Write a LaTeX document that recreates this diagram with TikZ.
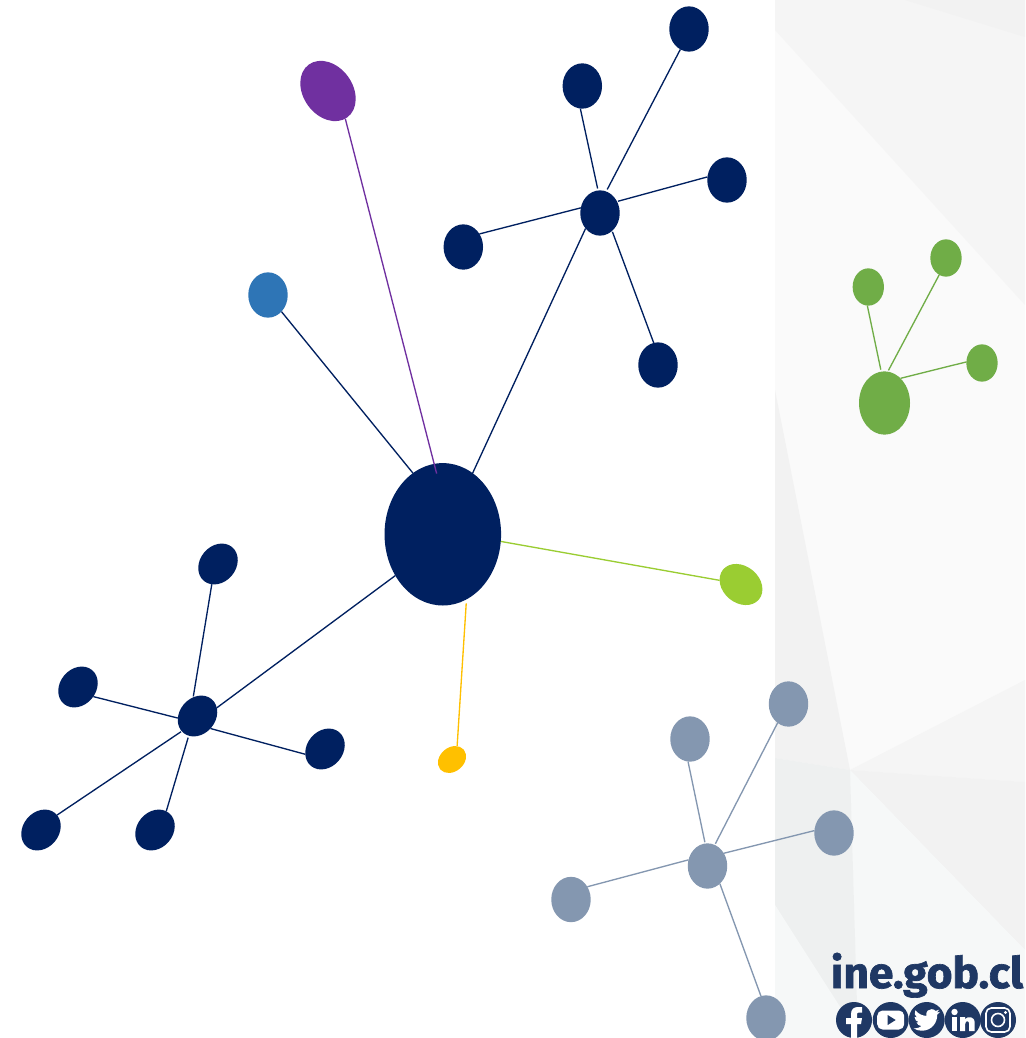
\documentclass[tikz,border=0pt]{standalone}
\usepackage{fontspec}
\setmainfont{Fira Sans}[BoldFeatures={FakeBold=1.5}]
\usetikzlibrary{shapes.geometric}
\definecolor{navy}{HTML}{002060}
\definecolor{skyb}{HTML}{2E75B6}
\definecolor{purp}{HTML}{7030A0}
\definecolor{lime}{HTML}{9ACD32}
\definecolor{gold}{HTML}{FFC000}
\definecolor{leaf}{HTML}{70AD47}
\definecolor{slate}{HTML}{8497B0}
\definecolor{logo}{HTML}{1F3864}
\definecolor{pale}{HTML}{F6F8F8}
\definecolor{dim}{HTML}{EEF0F0}
\tikzset{
  dot/.style={ellipse,inner sep=0pt,outer sep=0pt,draw=none},
  sat/.style={dot,minimum width=29.6pt,minimum height=34pt},
  tilted/.style={dot,minimum width=33pt,minimum height=27pt,rotate=50},
  small/.style={dot,fill=leaf,minimum width=23.5pt,minimum height=28pt},
  link/.style={line width=1pt},
  panel/.style={draw=none},
  icon/.style={circle,fill=logo,inner sep=0pt,outer sep=0pt,minimum size=27pt}
}
\begin{document}
\begin{tikzpicture}[x=0.75pt,y=-0.75pt]
\clip (0,0) rectangle (1025,1038);
\fill[white] (0,0) rectangle (1025,1038);
% background panel
\fill[panel,fill=black!2] (775,0) rectangle (1025,1038);
\fill[panel,fill=black!4] (775,0) -- (1025,0) -- (1025,305) -- (775,30) -- cycle;
\fill[panel,fill=black!5] (905,0) -- (1025,0) -- (1025,37) -- cycle;
\fill[panel,fill=black!5] (775,390) -- (850,770) -- (775,758) -- cycle;
\fill[panel,fill=black!4] (850,770) -- (1025,680) -- (1025,782) -- cycle;
\fill[panel,fill=black!5] (850,770) -- (1025,782) -- (1025,950) -- cycle;
\fill[panel,fill=pale] (850,770) -- (1025,950) -- (1025,1038) -- (858,1038) -- cycle;
\fill[panel,fill=dim] (775,758) -- (850,770) -- (858,1038) -- (775,905) -- cycle;
\fill[panel,fill=pale] (775,905) -- (860,1038) -- (775,1038) -- cycle;
% nodes
\node[dot,fill=navy,minimum width=87.4pt,minimum height=106.8pt] (B) at (442.8,534.3) {};
\node[dot,fill=purp,minimum width=49pt,minimum height=37pt,rotate=-54] (P) at (328,91) {};
\node[sat,fill=skyb] (S) at (268,295) {};
\node[dot,fill=lime,minimum width=35pt,minimum height=27.5pt,rotate=-40] (M) at (741,584.5) {};
\node[dot,fill=gold,minimum width=23pt,minimum height=18pt,rotate=40] (O) at (452,759.5) {};
\node[sat,fill=navy] (H) at (600,213) {};
\node[sat,fill=navy] (T1) at (689,29) {};
\node[sat,fill=navy] (T2) at (582.3,86) {};
\node[sat,fill=navy] (T3) at (727,180) {};
\node[sat,fill=navy] (T4) at (463.3,247) {};
\node[sat,fill=navy] (T5) at (658,365) {};
\node[tilted,fill=navy] (L) at (197.5,716) {};
\node[tilted,fill=navy] (La) at (218,564) {};
\node[tilted,fill=navy] (Lb) at (78,687) {};
\node[tilted,fill=navy] (Lc) at (325,749) {};
\node[tilted,fill=navy] (Ld) at (41,830) {};
\node[tilted,fill=navy] (Le) at (155,830) {};
\node[dot,fill=leaf,minimum width=38.25pt,minimum height=47.5pt] (G) at (884.5,403) {};
\node[small] (Ga) at (868.3,287) {};
\node[small] (Gb) at (946,258) {};
\node[small] (Gc) at (982,363) {};
\node[sat,fill=slate] (Y) at (707.5,866) {};
\node[sat,fill=slate] (Ya) at (690,739) {};
\node[sat,fill=slate] (Yb) at (788.5,704) {};
\node[sat,fill=slate] (Yc) at (834,833) {};
\node[sat,fill=slate] (Yd) at (571,899.5) {};
\node[sat,fill=slate] (Ye) at (766,1018) {};
% connectors
\begin{scope}[link,navy]
\draw[shorten <=1.7pt] (H.74) -- (T1.-113);
\draw[shorten <=1.5pt] (H.95) -- (T2.-95);
\draw[shorten <=0.7pt] (H.34) -- (T3.171);
\draw (H.165) -- (T4.39);
\draw[shorten <=0.7pt] (H.-56) -- (T5.101);
\draw (B.64) -- (H.-133);
\draw (B.116) -- (S.-51);
\draw (B.-139) -- (L.-27);
\draw[shorten <=0.7pt] (L.53) -- (La.-157);
\draw (L.136) -- (Lb.-82);
\draw (L.-94) -- (Lc.145);
\draw[shorten <=0.7pt] (L.174) -- (Ld.-7);
\draw[shorten <=1.5pt] (L.-164) -- (Le.9);
\end{scope}
\draw[link,lime] (B.-7) -- (M.-151);
\draw[link,gold,shorten <=3pt] (B.-70) -- (O.29);
\draw[link,purp,shorten <=-7.5pt] (B.97) -- (P.-4);
\begin{scope}[link,leaf]
\draw[shorten <=1.5pt] (G.96) -- (Ga.-93);
\draw[shorten <=1pt] (G.84) -- (Gb.-112);
\draw (G.57) -- (Gc.176);
\end{scope}
\begin{scope}[link,slate]
\draw[shorten <=1pt] (Y.96) -- (Ya.-95);
\draw[shorten <=1pt] (Y.71) -- (Yb.-120);
\draw (Y.38) -- (Yc.173);
\draw (Y.162) -- (Yd.38);
\draw (Y.-55) -- (Ye.103);
\end{scope}
% logo
\node[inner sep=0pt,outer sep=0pt,text=logo,anchor=base,xscale=0.95,yscale=0.93] (web) at (927,988) {\fontsize{35}{35}\selectfont\bfseries ine.gob.cl};
\node[icon] (fb) at (854,1020) {};
\node[icon] (yt) at (890.7,1020) {};
\node[icon] (tw) at (926.7,1020) {};
\node[icon] (li) at (962.7,1020) {};
\node[icon] (ig) at (998,1020) {};
\begin{scope}[shift={(854,1020)}]
\fill[white] (-3,18) -- (-3,4) -- (-8,4) -- (-8,-2) -- (-3,-2) -- (-3,-6) .. controls (-3,-11) and (0,-13) .. (4,-13) -- (8,-13) -- (8,-7.5) -- (5,-7.5) .. controls (3.5,-7.5) and (3,-7) .. (3,-5.5) -- (3,-2) -- (8,-2) -- (7,4) -- (3,4) -- (3,18) -- cycle;
\end{scope}
\begin{scope}[shift={(890.7,1020)}]
\fill[white,rounded corners=4pt] (-13.5,-9.5) rectangle (13.5,9.5);
\fill[logo] (-3,-5) -- (5,0) -- (-3,5) -- cycle;
\end{scope}
\begin{scope}[shift={(913.5,1006.8)},scale=1.1]
\fill[white] (23.95,4.57) -- (21.13,5.35) -- (23.29,2.62) -- (20.16,3.8) .. controls (18.3,1.6) and (14.8,1.6) .. (12.8,3.5) .. controls (11.7,4.7) and (11.3,6.5) .. (11.78,8.29) .. controls (7.69,8.1) and (4.07,6.13) .. (1.64,3.16) .. controls (0.4,5.4) and (1.1,8.3) .. (3.16,9.73) -- (0.93,9.12) -- (0.93,9.18) .. controls (0.93,11.5) and (2.6,13.6) .. (4.88,14) -- (2.67,14.09) .. controls (3.3,16) and (5.1,17.4) .. (7.27,17.5) .. controls (5.5,18.9) and (3.4,19.6) .. (1.17,19.6) -- (0,19.54) .. controls (2.2,21) and (4.9,21.75) .. (7.56,21.75) .. controls (16.6,21.75) and (21.55,14.25) .. (21.55,7.77) -- (21.54,7.14) .. controls (22.5,6.4) and (23.4,5.6) .. (24,4.59) -- cycle;
\end{scope}
\begin{scope}[shift={(962.7,1020)}]
\fill[white] (-11,-3) rectangle (-5.5,11);
\fill[white] (-8.2,-8) circle[radius=3.2];
\fill[white] (-2.5,-3) -- (2.5,-3) -- (2.5,-1) .. controls (5,-4) and (12,-4) .. (12,3) -- (12,11) -- (6.5,11) -- (6.5,4) .. controls (6.5,0) and (2.5,0.5) .. (2.5,4) -- (2.5,11) -- (-2.5,11) -- cycle;
\end{scope}
\begin{scope}[shift={(998,1020)}]
\draw[white,line width=1.2pt,rounded corners=4pt] (-12,-12) rectangle (12,12);
\draw[white,line width=1.2pt] (0,0) circle[radius=6.5];
\fill[white] (7.5,-7.5) circle[radius=1.6];
\end{scope}
\end{tikzpicture}
\end{document}
